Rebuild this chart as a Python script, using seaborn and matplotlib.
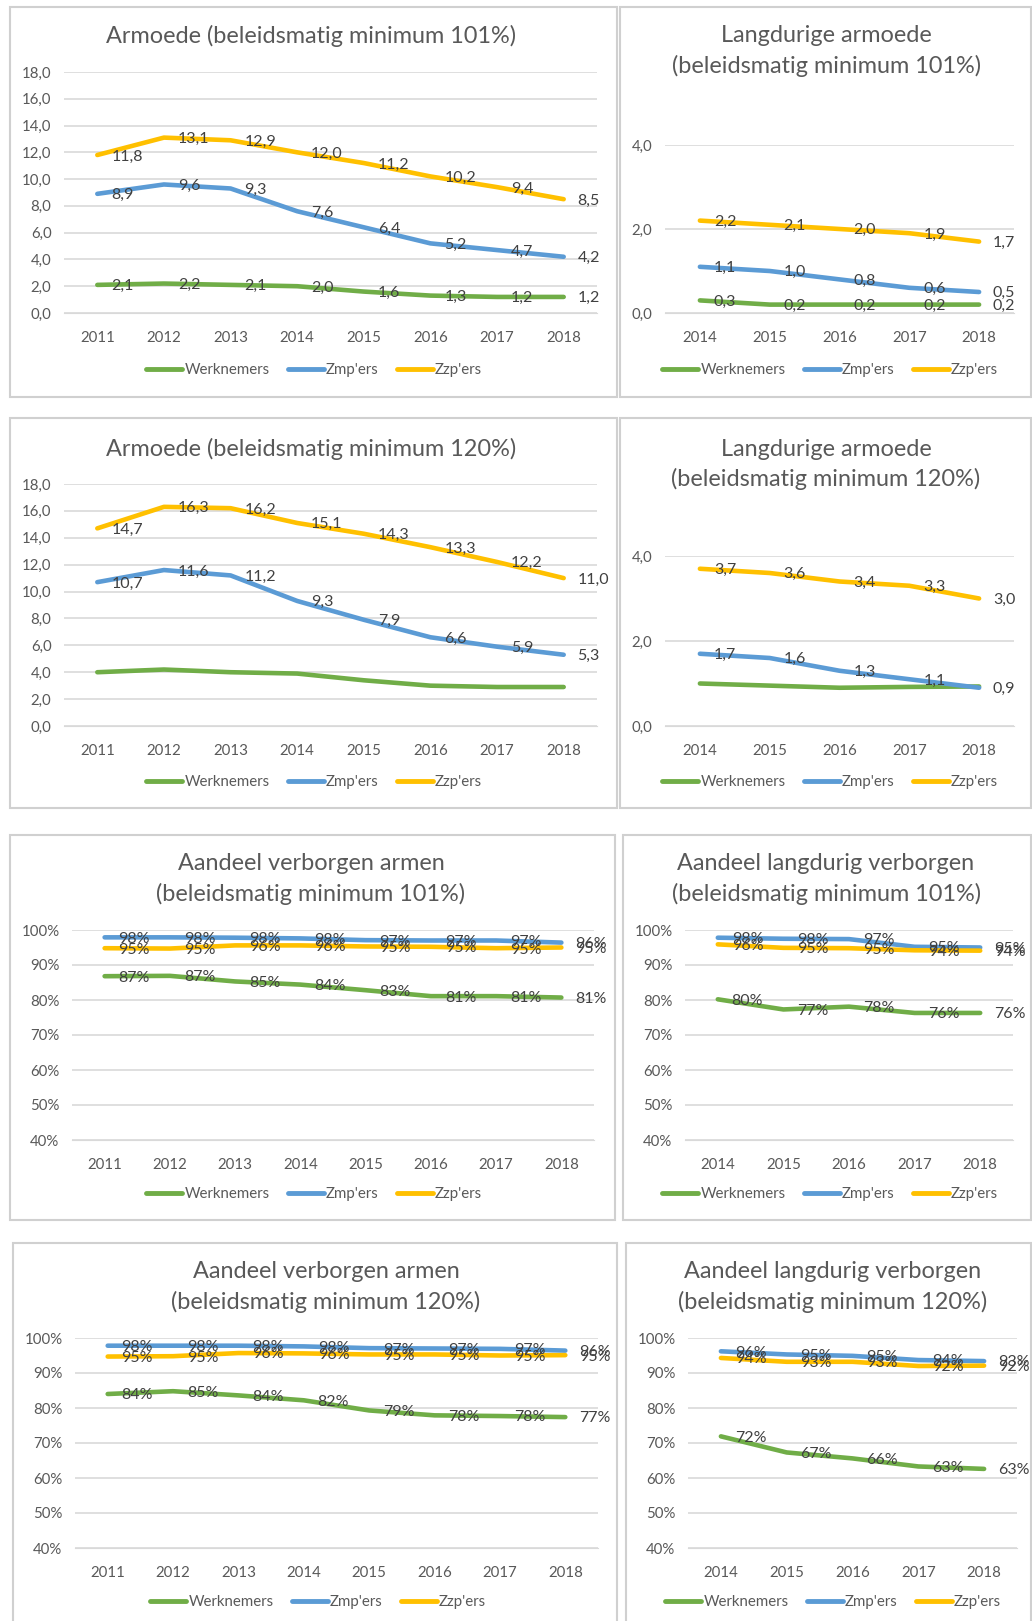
import numpy as np
import pandas as pd
import matplotlib
matplotlib.use("Agg")
import matplotlib.pyplot as plt
import seaborn as sns
from matplotlib.lines import Line2D
from matplotlib.patches import Rectangle

# Series names and colours
groups = ["Werknemers", "Zmp'ers", "Zzp'ers"]
colors = ["#70AD47", "#5B9BD5", "#FFC000"]

years_long = ["2011", "2012", "2013", "2014", "2015", "2016", "2017", "2018"]
years_short = ["2014", "2015", "2016", "2017", "2018"]

# Armoede (101%)
arm101_wn = [2.1, 2.2, 2.1, 2.0, 1.6, 1.3, 1.2, 1.2]
arm101_zmp = [8.9, 9.6, 9.3, 7.6, 6.4, 5.2, 4.7, 4.2]
arm101_zzp = [11.8, 13.1, 12.9, 12.0, 11.2, 10.2, 9.4, 8.5]

# Langdurige armoede (101%)
lang101_wn = [0.3, 0.2, 0.2, 0.2, 0.2]
lang101_zmp = [1.1, 1.0, 0.8, 0.6, 0.5]
lang101_zzp = [2.2, 2.1, 2.0, 1.9, 1.7]

# Armoede (120%)
arm120_wn = [4.0, 4.2, 4.0, 3.9, 3.4, 3.0, 2.9, 2.9]
arm120_zmp = [10.7, 11.6, 11.2, 9.3, 7.9, 6.6, 5.9, 5.3]
arm120_zzp = [14.7, 16.3, 16.2, 15.1, 14.3, 13.3, 12.2, 11.0]

# Langdurige armoede (120%)
lang120_wn = [1.0, 0.95, 0.9, 0.92, 0.93]
lang120_zmp = [1.7, 1.6, 1.3, 1.1, 0.9]
lang120_zzp = [3.7, 3.6, 3.4, 3.3, 3.0]

# Aandeel verborgen armen (101%)
verb101_wn = [0.868, 0.869, 0.853, 0.844, 0.828, 0.811, 0.811, 0.807]
verb101_zmp = [0.979, 0.979, 0.978, 0.976, 0.971, 0.970, 0.970, 0.964]
verb101_zzp = [0.948, 0.947, 0.956, 0.956, 0.953, 0.952, 0.948, 0.950]

# Aandeel langdurig verborgen (101%)
lverb101_wn = [0.802, 0.773, 0.781, 0.763, 0.763]
lverb101_zmp = [0.978, 0.975, 0.974, 0.952, 0.950]
lverb101_zzp = [0.959, 0.949, 0.948, 0.942, 0.941]

# Aandeel verborgen armen (120%)
verb120_wn = [0.840, 0.848, 0.836, 0.822, 0.793, 0.779, 0.777, 0.774]
verb120_zmp = [0.978, 0.978, 0.978, 0.976, 0.971, 0.970, 0.969, 0.964]
verb120_zzp = [0.947, 0.948, 0.957, 0.956, 0.953, 0.953, 0.950, 0.951]

# Aandeel langdurig verborgen (120%)
lverb120_wn = [0.719, 0.673, 0.656, 0.633, 0.626]
lverb120_zmp = [0.962, 0.953, 0.949, 0.937, 0.934]
lverb120_zzp = [0.943, 0.932, 0.932, 0.920, 0.921]

W, H = 1032, 1621
sns.set_style("white")
plt.rcParams["font.family"] = ["Lato", "DejaVu Sans"]

TXT = "#595959"
LBL = "#404040"

fig = plt.figure(figsize=(W / 100, H / 100), dpi=100)


def fx(px):
    return px / W


def fy(py):
    return 1 - py / H


def fmt_dec(v):
    return f"{v:.1f}".replace(".", ",")


def fmt_pct(v):
    return f"{v * 100:.0f}%"


def panel(box, area, title_lines, title_x, title_y, legend_xy, years, series,
          ylim, yticks, tickfmt, labelfmt, labelled):
    # panel frame
    x0, y0, x1, y1 = box
    fig.patches.append(Rectangle((fx(x0), fy(y1)), fx(x1 - x0), (y1 - y0) / H,
                                 transform=fig.transFigure, fill=False,
                                 edgecolor="#D0D0D0", lw=1.5))
    l, r, t, b = area
    ax = fig.add_axes([fx(l), fy(b), fx(r - l), (b - t) / H])
    df = pd.DataFrame({
        "jaar": years * 3,
        "waarde": series[0] + series[1] + series[2],
        "groep": [g for g in groups for _ in years],
    })
    sns.lineplot(data=df, x="jaar", y="waarde", hue="groep", palette=colors,
                 hue_order=groups, lw=3.3, legend=False, ax=ax,
                 solid_joinstyle="round", solid_capstyle="round")
    for s, vals in enumerate(series):
        if not labelled[s]:
            continue
        for i, v in enumerate(vals):
            ax.annotate(labelfmt(v), (i, v), xytext=(10, -1),
                        textcoords="offset points", ha="left", va="center",
                        fontsize=11.5, color=LBL, zorder=5)
    ax.set_xlim(-0.5, len(years) - 0.5)
    ax.set_ylim(*ylim)
    ax.set_yticks(yticks)
    ax.set_yticklabels([tickfmt(v) for v in yticks])
    ax.set_xlabel("")
    ax.set_ylabel("")
    ax.yaxis.grid(True, color="#D9D9D9", lw=1.2)
    ax.xaxis.grid(False)
    for sp in ax.spines.values():
        sp.set_visible(False)
    ax.spines["bottom"].set_visible(True)
    ax.spines["bottom"].set_color("#D9D9D9")
    ax.tick_params(axis="both", length=0, labelsize=10.8, colors=TXT)
    ax.tick_params(axis="x", pad=13)
    ax.tick_params(axis="y", pad=9)
    ax.set_facecolor("none")
    for k, line in enumerate(title_lines):
        fig.text(fx(title_x), fy(title_y + k * 30), line, ha="center",
                 va="center", fontsize=16.9, color=TXT)
    handles = [Line2D([0], [0], color=c, lw=3.5) for c in colors]
    ax.legend(handles, groups, loc="center", ncol=3, frameon=False,
              bbox_to_anchor=(fx(legend_xy[0]), fy(legend_xy[1])),
              bbox_transform=fig.transFigure, fontsize=10.8, labelcolor=TXT,
              handlelength=2.4, handletextpad=0.15, columnspacing=1.2)
    return ax


dec18 = [0, 2, 4, 6, 8, 10, 12, 14, 16, 18]
dec4 = [0, 2, 4]
pct = [0.4, 0.5, 0.6, 0.7, 0.8, 0.9, 1.0]

panel((10, 7, 617, 397), (64, 597, 72, 313),
      ["Armoede (beleidsmatig minimum 101%)"], 311, 36, (314, 370),
      years_long, [arm101_wn, arm101_zmp, arm101_zzp],
      (0, 18), dec18, fmt_dec, fmt_dec, [True, True, True])

panel((620, 7, 1031, 397), (665, 1014, 145, 313),
      ["Langdurige armoede", "(beleidsmatig minimum 101%)"], 826, 36, (830, 370),
      years_short, [lang101_wn, lang101_zmp, lang101_zzp],
      (0, 4), dec4, fmt_dec, fmt_dec, [True, True, True])

panel((10, 418, 617, 808), (64, 597, 484, 726),
      ["Armoede (beleidsmatig minimum 120%)"], 311, 449, (314, 782),
      years_long, [arm120_wn, arm120_zmp, arm120_zzp],
      (0, 18), dec18, fmt_dec, fmt_dec, [False, True, True])

panel((620, 418, 1031, 808), (665, 1014, 556, 726),
      ["Langdurige armoede", "(beleidsmatig minimum 120%)"], 826, 449, (830, 782),
      years_short, [lang120_wn, lang120_zmp, lang120_zzp],
      (0, 4), dec4, fmt_dec, fmt_dec, [False, True, True])

panel((10, 835, 615, 1220), (72, 594, 930, 1140),
      ["Aandeel verborgen armen", "(beleidsmatig minimum 101%)"], 311, 864, (314, 1194),
      years_long, [verb101_wn, verb101_zmp, verb101_zzp],
      (0.4, 1.0), pct, fmt_pct, fmt_pct, [True, True, True])

panel((623, 835, 1031, 1220), (685, 1013, 930, 1140),
      ["Aandeel langdurig verborgen", "(beleidsmatig minimum 101%)"], 826, 864, (830, 1194),
      years_short, [lverb101_wn, lverb101_zmp, lverb101_zzp],
      (0.4, 1.0), pct, fmt_pct, fmt_pct, [True, True, True])

panel((13, 1243, 617, 1640), (75, 598, 1338, 1548),
      ["Aandeel verborgen armen", "(beleidsmatig minimum 120%)"], 326, 1272, (318, 1602),
      years_long, [verb120_wn, verb120_zmp, verb120_zzp],
      (0.4, 1.0), pct, fmt_pct, fmt_pct, [True, True, True])

panel((626, 1243, 1031, 1640), (688, 1017, 1338, 1548),
      ["Aandeel langdurig verborgen", "(beleidsmatig minimum 120%)"], 833, 1272, (833, 1602),
      years_short, [lverb120_wn, lverb120_zmp, lverb120_zzp],
      (0.4, 1.0), pct, fmt_pct, fmt_pct, [True, True, True])

fig.savefig("out.png", dpi=100, facecolor="white")
